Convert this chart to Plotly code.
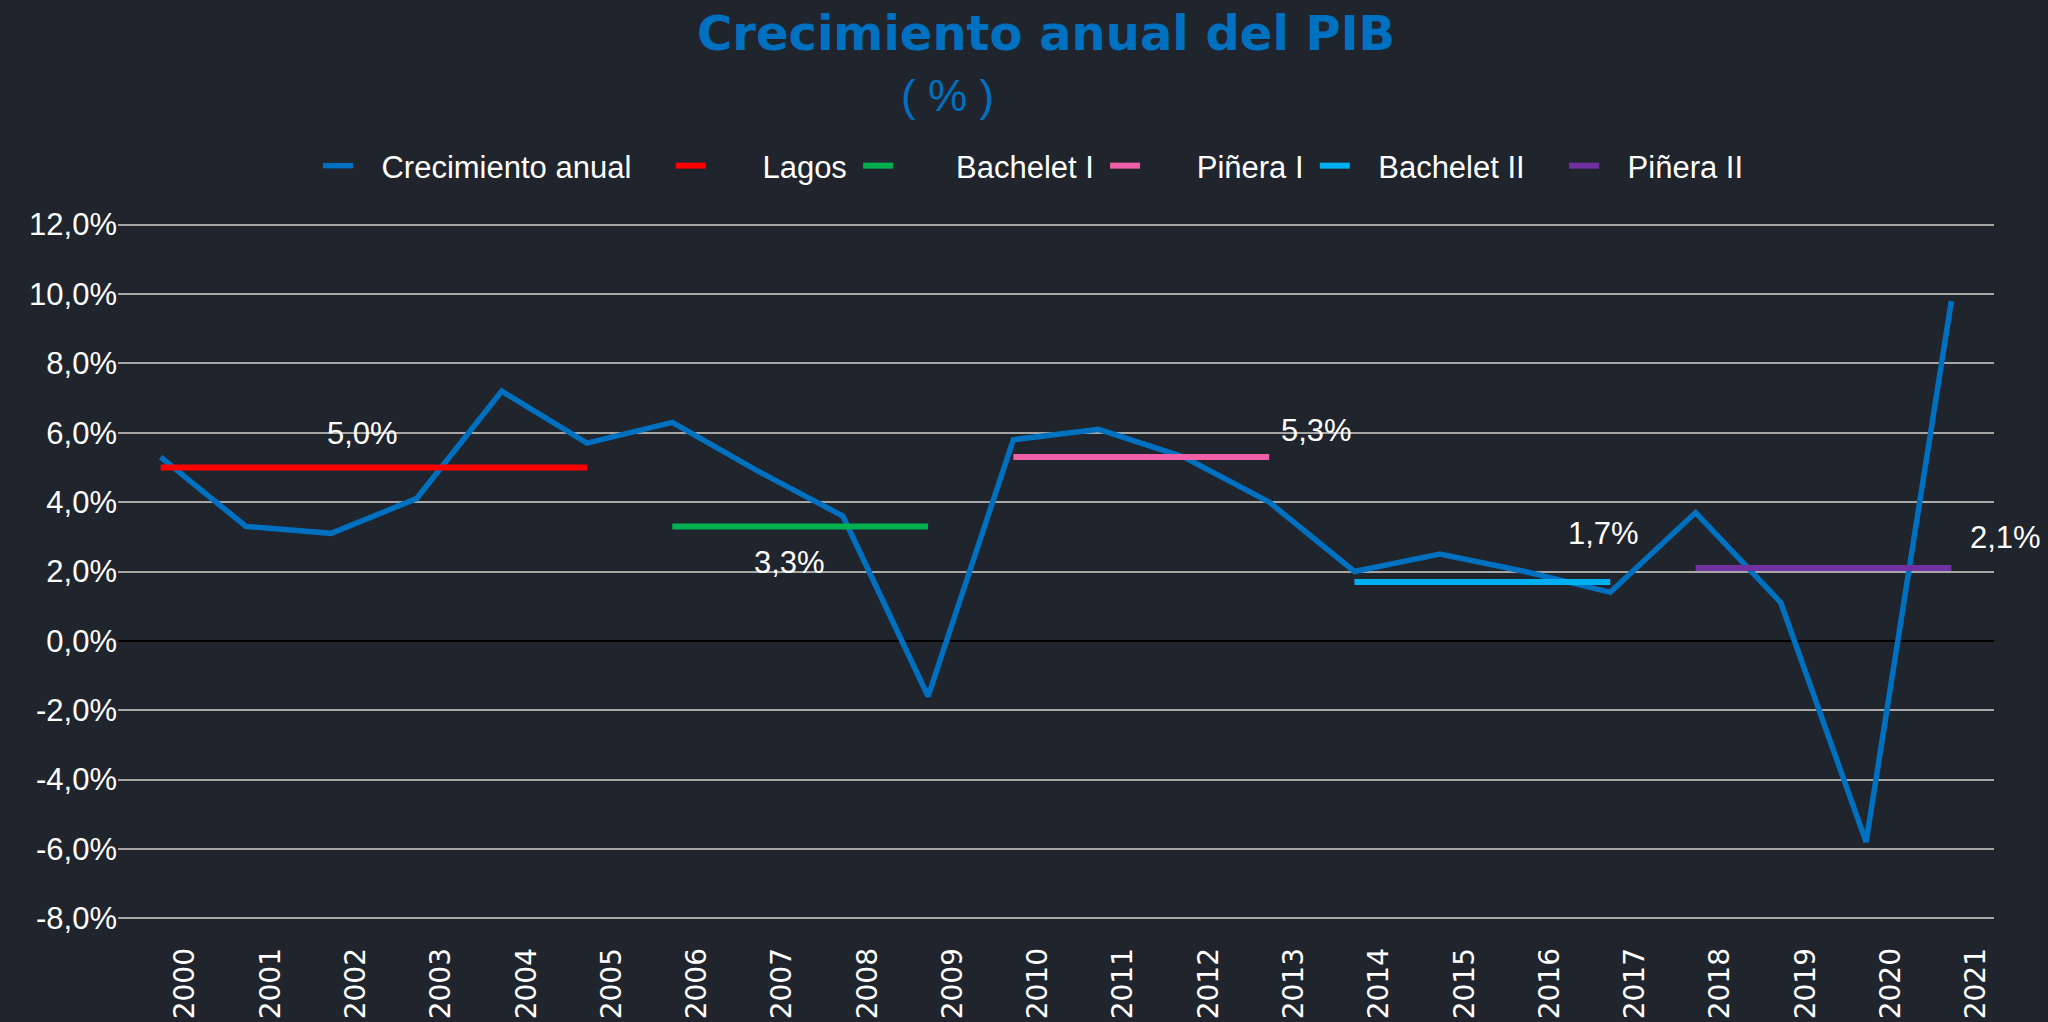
import plotly.graph_objects as go

# ---------------- data ----------------
years = ["2000", "2001", "2002", "2003", "2004", "2005", "2006", "2007", "2008", "2009", "2010",
         "2011", "2012", "2013", "2014", "2015", "2016", "2017", "2018", "2019", "2020", "2021"]
growth = [5.3, 3.3, 3.1, 4.1, 7.2, 5.7, 6.3, 4.9, 3.6, -1.6, 5.8,
          6.1, 5.3, 4.0, 2.0, 2.5, 2.0, 1.4, 3.7, 1.1, -5.8, 9.8]

periods = ["Lagos", "Bachelet I", "Piñera I", "Bachelet II", "Piñera II"]
period_start = ["2000", "2006", "2010", "2014", "2018"]
period_end = ["2005", "2009", "2013", "2017", "2021"]
period_avg = [5.0, 3.3, 5.3, 1.7, 2.1]
period_text = ["5,0%", "3,3%", "5,3%", "1,7%", "2,1%"]

y_ticks = [-8, -6, -4, -2, 0, 2, 4, 6, 8, 10, 12]
y_ticklabels = ["-8,0%", "-6,0%", "-4,0%", "-2,0%", "0,0%", "2,0%", "4,0%", "6,0%", "8,0%", "10,0%", "12,0%"]

# ---------------- style ----------------
BG = "#1f242d"
BLUE = "#0070c0"
period_colors = ["#ff0000", "#00b050", "#f060a8", "#00b0f0", "#7030a0"]
NB = "\u00a0"
TS = "\u2009"
main_legend_name = NB * 2 + TS + "Crecimiento anual" + NB * 4
legend_names = [NB * 6 + "Lagos" + TS, NB * 6 + TS + "Bachelet I" + TS, NB * 6 + "Piñera I" + TS,
                NB * 2 + TS + "Bachelet II" + NB * 4, NB * 2 + TS + "Piñera II"]
# label anchor on each segment: "mid" or "end", plus pixel shifts
label_anchor = ["mid", "mid", "end", "end", "end"]
label_dx = [-11, -11, 47, -7, 54]
label_dy = [34, -36, 27, 48, 31]

FONT = "Liberation Sans, Arial, sans-serif"

x_idx = list(range(len(years)))

fig = go.Figure()
fig.add_trace(go.Scatter(
    x=x_idx, y=growth, mode="lines", name=main_legend_name,
    line=dict(color=BLUE, width=5.5),
))
for i, name in enumerate(periods):
    xs = [years.index(period_start[i]), years.index(period_end[i])]
    fig.add_trace(go.Scatter(
        x=xs, y=[period_avg[i], period_avg[i]], mode="lines", name=legend_names[i],
        line=dict(color=period_colors[i], width=6),
    ))
    ax = (xs[0] + xs[1]) / 2 if label_anchor[i] == "mid" else xs[1]
    fig.add_annotation(
        x=ax, y=period_avg[i], xref="x", yref="y", xshift=label_dx[i], yshift=label_dy[i],
        text=period_text[i], showarrow=False,
        font=dict(family=FONT, size=31, color="white"),
    )

fig.add_annotation(
    x=1046 / 2048, y=1 - 33 / 1022, xref="paper", yref="paper", xanchor="center", yanchor="middle",
    text="<b>Crecimiento anual del PIB</b>", showarrow=False,
    font=dict(family="DejaVu Sans, Verdana, sans-serif", size=48, color=BLUE),
)
fig.add_annotation(
    x=947 / 2048, y=1 - 95 / 1022, xref="paper", yref="paper", xanchor="center", yanchor="middle",
    text="( % )", showarrow=False,
    font=dict(family=FONT, size=44, color=BLUE),
)

fig.update_layout(
    width=2048, height=1022,
    paper_bgcolor=BG, plot_bgcolor=BG,
    margin=dict(l=0, r=0, t=0, b=0, autoexpand=False),
    showlegend=True,
    legend=dict(
        orientation="h", x=318 / 2048, xanchor="left", y=1 - 166 / 1022, yanchor="middle",
        font=dict(family=FONT, size=31, color="white"), bgcolor="rgba(0,0,0,0)",
    ),
    xaxis=dict(
        domain=[118 / 2048, 1994 / 2048], range=[-0.5, 21.5], automargin=False,
        tickmode="array", tickvals=[i + 0.29 for i in x_idx], ticktext=years,
        tickangle=-90, showgrid=False, zeroline=False, showline=False, ticks="",
        tickfont=dict(family="DejaVu Sans, sans-serif", size=28, color="white"),
        ticklabelstandoff=22,
    ),
    yaxis=dict(
        domain=[1 - 919.4 / 1022, 1 - 223.6 / 1022], range=[-8.03, 12.03], automargin=False,
        tickmode="array", tickvals=y_ticks, ticktext=y_ticklabels,
        showgrid=True, gridcolor="#a6a6a6", gridwidth=2,
        zeroline=True, zerolinecolor="#000000", zerolinewidth=2,
        showline=False, ticks="",
        tickfont=dict(family=FONT, size=31, color="white"),
    ),
)

fig.write_html(
    "out.html",
    config={"displayModeBar": False},
    post_script=("document.documentElement.style.margin='0';document.body.style.margin='0';"
                 "document.body.style.overflow='hidden';document.body.style.background='%s';" % BG),
)
